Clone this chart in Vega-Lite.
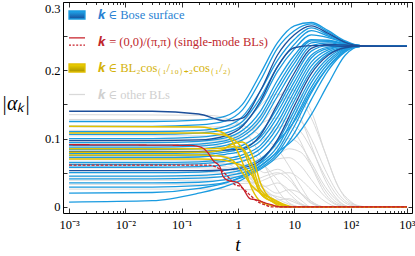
{
 "$schema": "https://vega.github.io/schema/vega-lite/v6.json",
 "width": 349, "height": 211,
 "autosize": {"type": "none"},
 "padding": {"left": 63, "top": 2, "right": 3, "bottom": 43},
 "background": "white",
 "config": {"font": "Liberation Serif", "view": {"stroke": "black", "strokeWidth": 1},
   "axis": {"grid": false, "domain": false, "tickColor": "black", "labelColor": "black", "labelFont": "Liberation Serif", "labelFontSize": 12.5, "titleFont": "Liberation Serif", "titleFontWeight": "normal", "titleColor": "black", "tickWidth": 0.8}},
 "datasets": {
  "bose": [
   {"s":"b1","t":0.001,"v":0.125},{"s":"b1","t":0.03,"v":0.125},{"s":"b1","t":0.2,"v":0.127},{"s":"b1","t":0.6,"v":0.133},{"s":"b1","t":1.2,"v":0.15},{"s":"b1","t":2.5,"v":0.195},{"s":"b1","t":5,"v":0.24},{"s":"b1","t":10,"v":0.265},{"s":"b1","t":20,"v":0.27},{"s":"b1","t":40,"v":0.258},{"s":"b1","t":80,"v":0.243},{"s":"b1","t":150,"v":0.236},{"s":"b1","t":1000,"v":0.235},
   {"s":"b2","t":0.001,"v":0.118},{"s":"b2","t":0.03,"v":0.118},{"s":"b2","t":0.2,"v":0.12},{"s":"b2","t":0.6,"v":0.126},{"s":"b2","t":1.2,"v":0.142},{"s":"b2","t":2.5,"v":0.185},{"s":"b2","t":5,"v":0.232},{"s":"b2","t":10,"v":0.258},{"s":"b2","t":20,"v":0.268},{"s":"b2","t":40,"v":0.256},{"s":"b2","t":80,"v":0.242},{"s":"b2","t":150,"v":0.236},{"s":"b2","t":1000,"v":0.235},
   {"s":"b4","t":0.001,"v":0.11},{"s":"b4","t":0.03,"v":0.11},{"s":"b4","t":0.2,"v":0.112},{"s":"b4","t":0.6,"v":0.118},{"s":"b4","t":1.2,"v":0.132},{"s":"b4","t":2.5,"v":0.17},{"s":"b4","t":5,"v":0.214},{"s":"b4","t":10,"v":0.245},{"s":"b4","t":20,"v":0.262},{"s":"b4","t":40,"v":0.252},{"s":"b4","t":80,"v":0.241},{"s":"b4","t":150,"v":0.236},{"s":"b4","t":1000,"v":0.235},
   {"s":"b5","t":0.001,"v":0.106},{"s":"b5","t":0.03,"v":0.106},{"s":"b5","t":0.2,"v":0.108},{"s":"b5","t":0.6,"v":0.113},{"s":"b5","t":1.2,"v":0.125},{"s":"b5","t":2.5,"v":0.16},{"s":"b5","t":5,"v":0.205},{"s":"b5","t":10,"v":0.238},{"s":"b5","t":20,"v":0.258},{"s":"b5","t":40,"v":0.25},{"s":"b5","t":80,"v":0.24},{"s":"b5","t":150,"v":0.236},{"s":"b5","t":1000,"v":0.235},
   {"s":"b6","t":0.001,"v":0.1},{"s":"b6","t":0.03,"v":0.1},{"s":"b6","t":0.2,"v":0.102},{"s":"b6","t":0.6,"v":0.108},{"s":"b6","t":1.2,"v":0.12},{"s":"b6","t":2.5,"v":0.152},{"s":"b6","t":5,"v":0.198},{"s":"b6","t":10,"v":0.231},{"s":"b6","t":20,"v":0.252},{"s":"b6","t":40,"v":0.248},{"s":"b6","t":80,"v":0.24},{"s":"b6","t":150,"v":0.236},{"s":"b6","t":1000,"v":0.235},
   {"s":"b8","t":0.001,"v":0.094},{"s":"b8","t":0.03,"v":0.094},{"s":"b8","t":0.2,"v":0.096},{"s":"b8","t":0.6,"v":0.101},{"s":"b8","t":1.2,"v":0.112},{"s":"b8","t":2.5,"v":0.14},{"s":"b8","t":5,"v":0.185},{"s":"b8","t":10,"v":0.222},{"s":"b8","t":20,"v":0.245},{"s":"b8","t":40,"v":0.244},{"s":"b8","t":80,"v":0.239},{"s":"b8","t":150,"v":0.235},{"s":"b8","t":1000,"v":0.235},
   {"s":"b9","t":0.001,"v":0.09},{"s":"b9","t":0.03,"v":0.09},{"s":"b9","t":0.2,"v":0.092},{"s":"b9","t":0.6,"v":0.097},{"s":"b9","t":1.2,"v":0.107},{"s":"b9","t":2.5,"v":0.133},{"s":"b9","t":5,"v":0.177},{"s":"b9","t":10,"v":0.216},{"s":"b9","t":20,"v":0.243},{"s":"b9","t":40,"v":0.243},{"s":"b9","t":80,"v":0.238},{"s":"b9","t":150,"v":0.235},{"s":"b9","t":1000,"v":0.235},
   {"s":"b10","t":0.001,"v":0.0876},{"s":"b10","t":0.03,"v":0.0876},{"s":"b10","t":0.2,"v":0.089},{"s":"b10","t":0.6,"v":0.094},{"s":"b10","t":1.2,"v":0.103},{"s":"b10","t":2.5,"v":0.127},{"s":"b10","t":5,"v":0.17},{"s":"b10","t":10,"v":0.21},{"s":"b10","t":20,"v":0.24},{"s":"b10","t":40,"v":0.242},{"s":"b10","t":80,"v":0.238},{"s":"b10","t":150,"v":0.235},{"s":"b10","t":1000,"v":0.235},
   {"s":"b11","t":0.001,"v":0.084},{"s":"b11","t":0.03,"v":0.084},{"s":"b11","t":0.2,"v":0.085},{"s":"b11","t":0.6,"v":0.09},{"s":"b11","t":1.2,"v":0.098},{"s":"b11","t":2.5,"v":0.12},{"s":"b11","t":5,"v":0.162},{"s":"b11","t":10,"v":0.203},{"s":"b11","t":20,"v":0.236},{"s":"b11","t":40,"v":0.24},{"s":"b11","t":80,"v":0.237},{"s":"b11","t":150,"v":0.235},{"s":"b11","t":1000,"v":0.235},
   {"s":"b13","t":0.001,"v":0.078},{"s":"b13","t":0.03,"v":0.078},{"s":"b13","t":0.2,"v":0.079},{"s":"b13","t":0.6,"v":0.083},{"s":"b13","t":1.2,"v":0.09},{"s":"b13","t":2.5,"v":0.108},{"s":"b13","t":5,"v":0.145},{"s":"b13","t":10,"v":0.19},{"s":"b13","t":20,"v":0.228},{"s":"b13","t":40,"v":0.236},{"s":"b13","t":80,"v":0.236},{"s":"b13","t":150,"v":0.235},{"s":"b13","t":1000,"v":0.235},
   {"s":"b14","t":0.001,"v":0.075},{"s":"b14","t":0.03,"v":0.075},{"s":"b14","t":0.2,"v":0.076},{"s":"b14","t":0.6,"v":0.08},{"s":"b14","t":1.2,"v":0.086},{"s":"b14","t":2.5,"v":0.102},{"s":"b14","t":5,"v":0.138},{"s":"b14","t":10,"v":0.183},{"s":"b14","t":20,"v":0.222},{"s":"b14","t":40,"v":0.234},{"s":"b14","t":80,"v":0.236},{"s":"b14","t":150,"v":0.235},{"s":"b14","t":1000,"v":0.235},
   {"s":"b15","t":0.001,"v":0.072},{"s":"b15","t":0.03,"v":0.072},{"s":"b15","t":0.2,"v":0.073},{"s":"b15","t":0.6,"v":0.077},{"s":"b15","t":1.2,"v":0.082},{"s":"b15","t":2.5,"v":0.097},{"s":"b15","t":5,"v":0.131},{"s":"b15","t":10,"v":0.176},{"s":"b15","t":20,"v":0.218},{"s":"b15","t":40,"v":0.232},{"s":"b15","t":80,"v":0.235},{"s":"b15","t":150,"v":0.235},{"s":"b15","t":1000,"v":0.235},
   {"s":"b16","t":0.001,"v":0.065},{"s":"b16","t":0.03,"v":0.065},{"s":"b16","t":0.2,"v":0.066},{"s":"b16","t":0.6,"v":0.07},{"s":"b16","t":1.2,"v":0.076},{"s":"b16","t":2.5,"v":0.09},{"s":"b16","t":5,"v":0.123},{"s":"b16","t":10,"v":0.169},{"s":"b16","t":20,"v":0.212},{"s":"b16","t":40,"v":0.23},{"s":"b16","t":80,"v":0.235},{"s":"b16","t":150,"v":0.235},{"s":"b16","t":1000,"v":0.235},
   {"s":"b17","t":0.001,"v":0.062},{"s":"b17","t":0.03,"v":0.062},{"s":"b17","t":0.2,"v":0.063},{"s":"b17","t":0.6,"v":0.067},{"s":"b17","t":1.2,"v":0.072},{"s":"b17","t":2.5,"v":0.085},{"s":"b17","t":5,"v":0.116},{"s":"b17","t":10,"v":0.162},{"s":"b17","t":20,"v":0.206},{"s":"b17","t":40,"v":0.227},{"s":"b17","t":80,"v":0.234},{"s":"b17","t":150,"v":0.235},{"s":"b17","t":1000,"v":0.235},
   {"s":"b18","t":0.001,"v":0.058},{"s":"b18","t":0.03,"v":0.058},{"s":"b18","t":0.2,"v":0.059},{"s":"b18","t":0.6,"v":0.062},{"s":"b18","t":1.2,"v":0.067},{"s":"b18","t":2.5,"v":0.079},{"s":"b18","t":5,"v":0.108},{"s":"b18","t":10,"v":0.155},{"s":"b18","t":20,"v":0.2},{"s":"b18","t":40,"v":0.224},{"s":"b18","t":80,"v":0.233},{"s":"b18","t":150,"v":0.235},{"s":"b18","t":1000,"v":0.235},
   {"s":"b20","t":0.001,"v":0.05},{"s":"b20","t":0.03,"v":0.05},{"s":"b20","t":0.2,"v":0.051},{"s":"b20","t":0.6,"v":0.054},{"s":"b20","t":1.2,"v":0.059},{"s":"b20","t":2.5,"v":0.07},{"s":"b20","t":5,"v":0.095},{"s":"b20","t":10,"v":0.141},{"s":"b20","t":20,"v":0.188},{"s":"b20","t":40,"v":0.218},{"s":"b20","t":80,"v":0.232},{"s":"b20","t":150,"v":0.235},{"s":"b20","t":1000,"v":0.235},
   {"s":"b21","t":0.001,"v":0.045},{"s":"b21","t":0.03,"v":0.045},{"s":"b21","t":0.2,"v":0.046},{"s":"b21","t":0.6,"v":0.049},{"s":"b21","t":1.2,"v":0.054},{"s":"b21","t":2.5,"v":0.064},{"s":"b21","t":5,"v":0.088},{"s":"b21","t":10,"v":0.134},{"s":"b21","t":20,"v":0.182},{"s":"b21","t":40,"v":0.214},{"s":"b21","t":80,"v":0.231},{"s":"b21","t":150,"v":0.235},{"s":"b21","t":1000,"v":0.235},
   {"s":"b22","t":0.001,"v":0.041},{"s":"b22","t":0.03,"v":0.041},{"s":"b22","t":0.2,"v":0.042},{"s":"b22","t":0.6,"v":0.045},{"s":"b22","t":1.2,"v":0.05},{"s":"b22","t":2.5,"v":0.06},{"s":"b22","t":5,"v":0.082},{"s":"b22","t":10,"v":0.127},{"s":"b22","t":20,"v":0.175},{"s":"b22","t":40,"v":0.21},{"s":"b22","t":80,"v":0.23},{"s":"b22","t":150,"v":0.235},{"s":"b22","t":1000,"v":0.235},
   {"s":"b23","t":0.001,"v":0.035},{"s":"b23","t":0.03,"v":0.035},{"s":"b23","t":0.2,"v":0.036},{"s":"b23","t":0.6,"v":0.04},{"s":"b23","t":1.2,"v":0.046},{"s":"b23","t":2.5,"v":0.057},{"s":"b23","t":5,"v":0.078},{"s":"b23","t":10,"v":0.118},{"s":"b23","t":20,"v":0.167},{"s":"b23","t":40,"v":0.205},{"s":"b23","t":80,"v":0.229},{"s":"b23","t":150,"v":0.235},{"s":"b23","t":1000,"v":0.235},
   {"s":"b24","t":0.001,"v":0.029},{"s":"b24","t":0.03,"v":0.029},{"s":"b24","t":0.2,"v":0.031},{"s":"b24","t":0.6,"v":0.036},{"s":"b24","t":1.2,"v":0.043},{"s":"b24","t":2.5,"v":0.055},{"s":"b24","t":5,"v":0.074},{"s":"b24","t":10,"v":0.108},{"s":"b24","t":20,"v":0.157},{"s":"b24","t":40,"v":0.2},{"s":"b24","t":80,"v":0.227},{"s":"b24","t":150,"v":0.235},{"s":"b24","t":1000,"v":0.235},
   {"s":"b25","t":0.001,"v":0.02},{"s":"b25","t":0.03,"v":0.021},{"s":"b25","t":0.2,"v":0.027},{"s":"b25","t":0.6,"v":0.035},{"s":"b25","t":1.2,"v":0.045},{"s":"b25","t":2.5,"v":0.065},{"s":"b25","t":5,"v":0.095},{"s":"b25","t":10,"v":0.125},{"s":"b25","t":20,"v":0.17},{"s":"b25","t":40,"v":0.205},{"s":"b25","t":80,"v":0.228},{"s":"b25","t":150,"v":0.235},{"s":"b25","t":1000,"v":0.235},
   {"s":"b26","t":0.001,"v":0.007},{"s":"b26","t":0.03,"v":0.009},{"s":"b26","t":0.2,"v":0.02},{"s":"b26","t":0.6,"v":0.03},{"s":"b26","t":1.2,"v":0.04},{"s":"b26","t":2.5,"v":0.06},{"s":"b26","t":5,"v":0.08},{"s":"b26","t":10,"v":0.1},{"s":"b26","t":20,"v":0.135},{"s":"b26","t":40,"v":0.18},{"s":"b26","t":80,"v":0.222},{"s":"b26","t":150,"v":0.235},{"s":"b26","t":1000,"v":0.235}
  ],
  "bose_deep": [
   {"s":"b3","t":0.001,"v":0.14},{"s":"b3","t":0.03,"v":0.14},{"s":"b3","t":0.2,"v":0.136},{"s":"b3","t":0.6,"v":0.126},{"s":"b3","t":1.2,"v":0.13},{"s":"b3","t":2.5,"v":0.17},{"s":"b3","t":5,"v":0.222},{"s":"b3","t":10,"v":0.252},{"s":"b3","t":20,"v":0.265},{"s":"b3","t":40,"v":0.254},{"s":"b3","t":80,"v":0.241},{"s":"b3","t":150,"v":0.236},{"s":"b3","t":1000,"v":0.235},
   {"s":"b7","t":0.001,"v":0.097},{"s":"b7","t":0.03,"v":0.097},{"s":"b7","t":0.2,"v":0.098},{"s":"b7","t":0.6,"v":0.104},{"s":"b7","t":1.2,"v":0.118},{"s":"b7","t":2.5,"v":0.155},{"s":"b7","t":5,"v":0.205},{"s":"b7","t":10,"v":0.233},{"s":"b7","t":20,"v":0.236},{"s":"b7","t":40,"v":0.236},{"s":"b7","t":80,"v":0.235},{"s":"b7","t":150,"v":0.235},{"s":"b7","t":1000,"v":0.235},
   {"s":"b12","t":0.001,"v":0.081},{"s":"b12","t":0.03,"v":0.081},{"s":"b12","t":0.2,"v":0.081},{"s":"b12","t":0.6,"v":0.083},{"s":"b12","t":1.2,"v":0.085},{"s":"b12","t":2.5,"v":0.105},{"s":"b12","t":5,"v":0.15},{"s":"b12","t":10,"v":0.196},{"s":"b12","t":20,"v":0.232},{"s":"b12","t":40,"v":0.238},{"s":"b12","t":80,"v":0.237},{"s":"b12","t":150,"v":0.235},{"s":"b12","t":1000,"v":0.235},
   {"s":"b19","t":0.001,"v":0.053},{"s":"b19","t":0.03,"v":0.053},{"s":"b19","t":0.2,"v":0.053},{"s":"b19","t":0.6,"v":0.054},{"s":"b19","t":1.2,"v":0.057},{"s":"b19","t":2.5,"v":0.068},{"s":"b19","t":5,"v":0.098},{"s":"b19","t":10,"v":0.148},{"s":"b19","t":20,"v":0.195},{"s":"b19","t":40,"v":0.222},{"s":"b19","t":80,"v":0.233},{"s":"b19","t":150,"v":0.235},{"s":"b19","t":1000,"v":0.235}
  ],
  "grey": [
   {"s":"g1","t":0.001,"v":0.135},{"s":"g1","t":0.3,"v":0.134},{"s":"g1","t":0.7,"v":0.128},{"s":"g1","t":1.2,"v":0.115},{"s":"g1","t":2,"v":0.09},{"s":"g1","t":3,"v":0.06},{"s":"g1","t":5,"v":0.025},{"s":"g1","t":8,"v":0.006},{"s":"g1","t":13,"v":0},{"s":"g1","t":1000,"v":0},
   {"s":"g2","t":0.001,"v":0.117},{"s":"g2","t":0.3,"v":0.117},{"s":"g2","t":0.7,"v":0.118},{"s":"g2","t":1.2,"v":0.125},{"s":"g2","t":2,"v":0.14},{"s":"g2","t":3,"v":0.155},{"s":"g2","t":5,"v":0.165},{"s":"g2","t":8,"v":0.16},{"s":"g2","t":13,"v":0.13},{"s":"g2","t":20,"v":0.09},{"s":"g2","t":35,"v":0.04},{"s":"g2","t":60,"v":0.01},{"s":"g2","t":100,"v":0},{"s":"g2","t":1000,"v":0},
   {"s":"g3","t":0.001,"v":0.104},{"s":"g3","t":0.3,"v":0.104},{"s":"g3","t":0.7,"v":0.104},{"s":"g3","t":1.2,"v":0.108},{"s":"g3","t":2,"v":0.12},{"s":"g3","t":3,"v":0.14},{"s":"g3","t":5,"v":0.16},{"s":"g3","t":8,"v":0.172},{"s":"g3","t":13,"v":0.165},{"s":"g3","t":20,"v":0.14},{"s":"g3","t":35,"v":0.08},{"s":"g3","t":60,"v":0.03},{"s":"g3","t":100,"v":0.008},{"s":"g3","t":150,"v":0},{"s":"g3","t":1000,"v":0},
   {"s":"g4","t":0.001,"v":0.1},{"s":"g4","t":0.3,"v":0.099},{"s":"g4","t":0.7,"v":0.093},{"s":"g4","t":1.2,"v":0.08},{"s":"g4","t":2,"v":0.06},{"s":"g4","t":3,"v":0.05},{"s":"g4","t":5,"v":0.055},{"s":"g4","t":8,"v":0.045},{"s":"g4","t":13,"v":0.02},{"s":"g4","t":20,"v":0.005},{"s":"g4","t":35,"v":0},{"s":"g4","t":1000,"v":0},
   {"s":"g5","t":0.001,"v":0.098},{"s":"g5","t":0.3,"v":0.098},{"s":"g5","t":0.7,"v":0.099},{"s":"g5","t":1.2,"v":0.104},{"s":"g5","t":2,"v":0.115},{"s":"g5","t":3,"v":0.125},{"s":"g5","t":5,"v":0.13},{"s":"g5","t":8,"v":0.12},{"s":"g5","t":13,"v":0.095},{"s":"g5","t":20,"v":0.06},{"s":"g5","t":35,"v":0.02},{"s":"g5","t":60,"v":0.003},{"s":"g5","t":100,"v":0},{"s":"g5","t":1000,"v":0},
   {"s":"g6","t":0.001,"v":0.092},{"s":"g6","t":0.3,"v":0.091},{"s":"g6","t":0.7,"v":0.085},{"s":"g6","t":1.2,"v":0.07},{"s":"g6","t":2,"v":0.045},{"s":"g6","t":3,"v":0.025},{"s":"g6","t":5,"v":0.01},{"s":"g6","t":8,"v":0.012},{"s":"g6","t":13,"v":0.004},{"s":"g6","t":20,"v":0},{"s":"g6","t":1000,"v":0},
   {"s":"g7","t":0.001,"v":0.086},{"s":"g7","t":0.3,"v":0.086},{"s":"g7","t":0.7,"v":0.087},{"s":"g7","t":1.2,"v":0.092},{"s":"g7","t":2,"v":0.1},{"s":"g7","t":3,"v":0.108},{"s":"g7","t":5,"v":0.12},{"s":"g7","t":8,"v":0.13},{"s":"g7","t":13,"v":0.125},{"s":"g7","t":20,"v":0.1},{"s":"g7","t":35,"v":0.055},{"s":"g7","t":60,"v":0.02},{"s":"g7","t":100,"v":0.004},{"s":"g7","t":200,"v":0},{"s":"g7","t":1000,"v":0},
   {"s":"g8","t":0.001,"v":0.08},{"s":"g8","t":0.3,"v":0.079},{"s":"g8","t":0.7,"v":0.072},{"s":"g8","t":1.2,"v":0.055},{"s":"g8","t":2,"v":0.035},{"s":"g8","t":3,"v":0.03},{"s":"g8","t":5,"v":0.035},{"s":"g8","t":8,"v":0.025},{"s":"g8","t":13,"v":0.01},{"s":"g8","t":20,"v":0},{"s":"g8","t":1000,"v":0},
   {"s":"g9","t":0.001,"v":0.074},{"s":"g9","t":0.3,"v":0.074},{"s":"g9","t":0.7,"v":0.073},{"s":"g9","t":1.2,"v":0.07},{"s":"g9","t":2,"v":0.068},{"s":"g9","t":3,"v":0.075},{"s":"g9","t":5,"v":0.09},{"s":"g9","t":8,"v":0.1},{"s":"g9","t":13,"v":0.09},{"s":"g9","t":20,"v":0.065},{"s":"g9","t":35,"v":0.03},{"s":"g9","t":60,"v":0.008},{"s":"g9","t":100,"v":0},{"s":"g9","t":1000,"v":0},
   {"s":"g10","t":0.001,"v":0.069},{"s":"g10","t":0.3,"v":0.068},{"s":"g10","t":0.7,"v":0.062},{"s":"g10","t":1.2,"v":0.048},{"s":"g10","t":2,"v":0.03},{"s":"g10","t":3,"v":0.015},{"s":"g10","t":5,"v":0.006},{"s":"g10","t":8,"v":0},{"s":"g10","t":1000,"v":0},
   {"s":"g11","t":0.001,"v":0.064},{"s":"g11","t":0.3,"v":0.064},{"s":"g11","t":1.2,"v":0.062},{"s":"g11","t":2,"v":0.06},{"s":"g11","t":3,"v":0.062},{"s":"g11","t":5,"v":0.07},{"s":"g11","t":8,"v":0.072},{"s":"g11","t":13,"v":0.06},{"s":"g11","t":20,"v":0.04},{"s":"g11","t":35,"v":0.015},{"s":"g11","t":60,"v":0.002},{"s":"g11","t":100,"v":0},{"s":"g11","t":1000,"v":0},
   {"s":"g12","t":0.001,"v":0.057},{"s":"g12","t":0.3,"v":0.057},{"s":"g12","t":0.7,"v":0.055},{"s":"g12","t":1.2,"v":0.048},{"s":"g12","t":2,"v":0.04},{"s":"g12","t":3,"v":0.045},{"s":"g12","t":5,"v":0.05},{"s":"g12","t":8,"v":0.04},{"s":"g12","t":13,"v":0.02},{"s":"g12","t":20,"v":0.006},{"s":"g12","t":35,"v":0},{"s":"g12","t":1000,"v":0},
   {"s":"g13","t":0.001,"v":0.05},{"s":"g13","t":0.3,"v":0.05},{"s":"g13","t":1.2,"v":0.048},{"s":"g13","t":2,"v":0.04},{"s":"g13","t":3,"v":0.03},{"s":"g13","t":5,"v":0.02},{"s":"g13","t":8,"v":0.025},{"s":"g13","t":13,"v":0.02},{"s":"g13","t":20,"v":0.008},{"s":"g13","t":35,"v":0},{"s":"g13","t":1000,"v":0},
   {"s":"g14","t":0.001,"v":0.044},{"s":"g14","t":0.3,"v":0.044},{"s":"g14","t":1.2,"v":0.045},{"s":"g14","t":2,"v":0.05},{"s":"g14","t":3,"v":0.06},{"s":"g14","t":5,"v":0.075},{"s":"g14","t":8,"v":0.085},{"s":"g14","t":13,"v":0.08},{"s":"g14","t":20,"v":0.06},{"s":"g14","t":35,"v":0.025},{"s":"g14","t":60,"v":0.005},{"s":"g14","t":100,"v":0},{"s":"g14","t":1000,"v":0},
   {"s":"g15","t":0.001,"v":0.039},{"s":"g15","t":0.3,"v":0.039},{"s":"g15","t":1.2,"v":0.038},{"s":"g15","t":2,"v":0.035},{"s":"g15","t":3,"v":0.025},{"s":"g15","t":5,"v":0.012},{"s":"g15","t":8,"v":0.004},{"s":"g15","t":13,"v":0},{"s":"g15","t":1000,"v":0},
   {"s":"g16","t":0.001,"v":0.033},{"s":"g16","t":0.3,"v":0.033},{"s":"g16","t":2,"v":0.035},{"s":"g16","t":3,"v":0.04},{"s":"g16","t":5,"v":0.048},{"s":"g16","t":8,"v":0.05},{"s":"g16","t":13,"v":0.04},{"s":"g16","t":20,"v":0.025},{"s":"g16","t":35,"v":0.008},{"s":"g16","t":60,"v":0},{"s":"g16","t":1000,"v":0},
   {"s":"g17","t":0.001,"v":0.026},{"s":"g17","t":0.3,"v":0.026},{"s":"g17","t":2,"v":0.025},{"s":"g17","t":3,"v":0.02},{"s":"g17","t":5,"v":0.015},{"s":"g17","t":8,"v":0.01},{"s":"g17","t":13,"v":0.003},{"s":"g17","t":20,"v":0},{"s":"g17","t":1000,"v":0},
   {"s":"g18","t":0.001,"v":0.128},{"s":"g18","t":0.3,"v":0.128},{"s":"g18","t":0.7,"v":0.127},{"s":"g18","t":1.2,"v":0.12},{"s":"g18","t":2,"v":0.11},{"s":"g18","t":3,"v":0.1},{"s":"g18","t":5,"v":0.085},{"s":"g18","t":8,"v":0.06},{"s":"g18","t":13,"v":0.03},{"s":"g18","t":20,"v":0.008},{"s":"g18","t":35,"v":0},{"s":"g18","t":1000,"v":0},
   {"s":"g19","t":0.001,"v":0.112},{"s":"g19","t":0.3,"v":0.111},{"s":"g19","t":0.7,"v":0.106},{"s":"g19","t":1.2,"v":0.095},{"s":"g19","t":2,"v":0.075},{"s":"g19","t":3,"v":0.06},{"s":"g19","t":5,"v":0.04},{"s":"g19","t":8,"v":0.02},{"s":"g19","t":13,"v":0.005},{"s":"g19","t":20,"v":0},{"s":"g19","t":1000,"v":0},
   {"s":"g20","t":0.001,"v":0.082},{"s":"g20","t":0.3,"v":0.082},{"s":"g20","t":1.2,"v":0.085},{"s":"g20","t":2,"v":0.09},{"s":"g20","t":3,"v":0.1},{"s":"g20","t":5,"v":0.115},{"s":"g20","t":8,"v":0.12},{"s":"g20","t":13,"v":0.11},{"s":"g20","t":20,"v":0.085},{"s":"g20","t":35,"v":0.045},{"s":"g20","t":60,"v":0.015},{"s":"g20","t":100,"v":0.002},{"s":"g20","t":150,"v":0},{"s":"g20","t":1000,"v":0},
   {"s":"g21","t":0.001,"v":0.06},{"s":"g21","t":0.3,"v":0.06},{"s":"g21","t":0.7,"v":0.058},{"s":"g21","t":1.2,"v":0.05},{"s":"g21","t":2,"v":0.035},{"s":"g21","t":3,"v":0.02},{"s":"g21","t":5,"v":0.008},{"s":"g21","t":8,"v":0},{"s":"g21","t":1000,"v":0},
   {"s":"g22","t":0.001,"v":0.095},{"s":"g22","t":0.3,"v":0.095},{"s":"g22","t":1.2,"v":0.098},{"s":"g22","t":2,"v":0.11},{"s":"g22","t":3,"v":0.128},{"s":"g22","t":5,"v":0.15},{"s":"g22","t":8,"v":0.16},{"s":"g22","t":13,"v":0.155},{"s":"g22","t":20,"v":0.13},{"s":"g22","t":35,"v":0.08},{"s":"g22","t":60,"v":0.03},{"s":"g22","t":100,"v":0.006},{"s":"g22","t":200,"v":0},{"s":"g22","t":1000,"v":0}
  ],
  "yellow": [
   {"s":"y1","t":0.001,"v":0.118},{"s":"y1","t":0.2,"v":0.117},{"s":"y1","t":0.5,"v":0.11},{"s":"y1","t":0.8,"v":0.095},{"s":"y1","t":1.2,"v":0.065},{"s":"y1","t":1.8,"v":0.025},{"s":"y1","t":2.5,"v":0.008},{"s":"y1","t":4,"v":0.002},{"s":"y1","t":6,"v":0},{"s":"y1","t":1000,"v":0},
   {"s":"y2","t":0.001,"v":0.108},{"s":"y2","t":0.2,"v":0.108},{"s":"y2","t":0.5,"v":0.106},{"s":"y2","t":0.8,"v":0.1},{"s":"y2","t":1.2,"v":0.085},{"s":"y2","t":1.8,"v":0.05},{"s":"y2","t":2.5,"v":0.02},{"s":"y2","t":4,"v":0.008},{"s":"y2","t":6,"v":0.002},{"s":"y2","t":8,"v":0},{"s":"y2","t":1000,"v":0},
   {"s":"y3","t":0.001,"v":0.08},{"s":"y3","t":0.2,"v":0.08},{"s":"y3","t":0.5,"v":0.083},{"s":"y3","t":0.8,"v":0.092},{"s":"y3","t":1.2,"v":0.095},{"s":"y3","t":1.8,"v":0.075},{"s":"y3","t":2.5,"v":0.035},{"s":"y3","t":4,"v":0.01},{"s":"y3","t":6,"v":0.003},{"s":"y3","t":8,"v":0},{"s":"y3","t":1000,"v":0},
   {"s":"y4","t":0.001,"v":0.076},{"s":"y4","t":0.2,"v":0.076},{"s":"y4","t":0.5,"v":0.074},{"s":"y4","t":0.8,"v":0.068},{"s":"y4","t":1.2,"v":0.05},{"s":"y4","t":1.8,"v":0.03},{"s":"y4","t":2.5,"v":0.02},{"s":"y4","t":4,"v":0.012},{"s":"y4","t":6,"v":0.004},{"s":"y4","t":8,"v":0},{"s":"y4","t":1000,"v":0},
   {"s":"y5","t":0.001,"v":0.07},{"s":"y5","t":0.2,"v":0.07},{"s":"y5","t":0.5,"v":0.069},{"s":"y5","t":0.8,"v":0.065},{"s":"y5","t":1.2,"v":0.06},{"s":"y5","t":1.8,"v":0.045},{"s":"y5","t":2.5,"v":0.02},{"s":"y5","t":4,"v":0.008},{"s":"y5","t":6,"v":0},{"s":"y5","t":1000,"v":0},
   {"s":"y6","t":0.001,"v":0.085},{"s":"y6","t":0.2,"v":0.085},{"s":"y6","t":0.5,"v":0.086},{"s":"y6","t":0.8,"v":0.088},{"s":"y6","t":1.2,"v":0.085},{"s":"y6","t":1.8,"v":0.06},{"s":"y6","t":2.5,"v":0.025},{"s":"y6","t":4,"v":0.012},{"s":"y6","t":6,"v":0.005},{"s":"y6","t":10,"v":0},{"s":"y6","t":1000,"v":0}
  ],
  "red": [
   {"s":"r1","t":0.001,"v":0.091},{"s":"r1","t":0.14,"v":0.09},{"s":"r1","t":0.21,"v":0.088},{"s":"r1","t":0.3,"v":0.078},{"s":"r1","t":0.36,"v":0.068},{"s":"r1","t":0.48,"v":0.058},{"s":"r1","t":0.54,"v":0.045},{"s":"r1","t":0.7,"v":0.038},{"s":"r1","t":0.97,"v":0.036},{"s":"r1","t":1.24,"v":0.026},{"s":"r1","t":1.64,"v":0.012},{"s":"r1","t":2.2,"v":0.01},{"s":"r1","t":3,"v":0.006},{"s":"r1","t":4,"v":0.003},{"s":"r1","t":5.6,"v":0},{"s":"r1","t":1000,"v":0},
   {"s":"r2","t":0.001,"v":0.061},{"s":"r2","t":0.3,"v":0.061},{"s":"r2","t":0.48,"v":0.055},{"s":"r2","t":0.7,"v":0.042},{"s":"r2","t":0.9,"v":0.032},{"s":"r2","t":1.1,"v":0.03},{"s":"r2","t":1.3,"v":0.025},{"s":"r2","t":1.7,"v":0.016},{"s":"r2","t":2.2,"v":0.008},{"s":"r2","t":3,"v":0.003},{"s":"r2","t":4,"v":0},{"s":"r2","t":1000,"v":0}
  ]
 },
 "layer": [
  {"data": {"name": "grey"},
   "mark": {"type": "line", "interpolate": "monotone", "strokeWidth": 1, "clip": true},
   "encoding": {
    "x": {"field": "t", "type": "quantitative", "scale": {"type": "log", "domain": [0.00078, 1230], "nice": false},
      "axis": {"orient": "bottom", "values": [0.001, 0.01, 0.1, 1, 10, 100, 1000], "tickSize": -5, "labelPadding": 10, "labelFontSize": 12.5,
        "labelExpr": "datum.value > 999 ? '10³' : datum.value > 99 ? '10²' : datum.value > 9 ? '10' : datum.value > 0.9 ? '1' : datum.value > 0.09 ? '10⁻¹' : datum.value > 0.009 ? '10⁻²' : '10⁻³'",
        "title": "t", "titleFontStyle": "italic", "titleFontSize": 19, "titlePadding": 5}},
    "y": {"field": "v", "type": "quantitative", "scale": {"domain": [-0.009, 0.3], "nice": false, "zero": false},
      "axis": {"orient": "left", "values": [0, 0.05, 0.1, 0.15, 0.2, 0.25, 0.3], "tickSize": -4, "labelPadding": 7, "labelFlush": 1,
        "labelExpr": "datum.value == 0 ? '0' : (round(datum.value*100) % 10 == 0 ? format(datum.value, '.1f') : '')",
        "title": "|αₖ|", "titleAngle": 0, "titleFontSize": 20, "titleFontStyle": "italic", "titleAlign": "left", "titleBaseline": "middle", "titleX": -62, "titleY": 101}},
    "detail": {"field": "s"},
    "color": {"datum": "other", "type": "nominal",
      "scale": {"domain": ["bose", "red", "yellow", "other"], "range": ["#1a9be0", "#c8202a", "#e2c000", "#d9d9d9"]},
      "legend": {"title": null, "orient": "none", "legendX": 5, "legendY": 4, "labelFont": "Liberation Serif", "labelFontSize": 12.5, "labelLimit": 400,
        "symbolSize": 256, "symbolStrokeWidth": 1.3, "labelOffset": 12, "rowPadding": 10.5,
        "labelExpr": "datum.value == 'bose' ? '𝒌 ∈ Bose surface' : datum.value == 'red' ? '𝒌 = (0,0)/(π,π) (single-mode BLs)' : datum.value == 'yellow' ? '𝒌 ∈ BL₂cos₍₁/₁₀₎₊₂cos₍₁/₂₎' : '𝒌 ∈ other BLs'",
        "encode": {
          "symbols": {"update": {
            "shape": [{"test": "datum.value == 'bose' || datum.value == 'yellow'", "value": "M-1,-0.5H1V0.5H-1Z"}, {"test": "datum.value == 'red'", "value": "M-1,-0.45H1M-1,0.45H-0.75M-0.55,0.45H-0.3M-0.1,0.45H0.15M0.35,0.45H0.6M0.8,0.45H1"}, {"value": "M-1,0H1"}],
            "fill": [{"test": "datum.value == 'bose'", "value": {"gradient": "linear", "x1": 0, "y1": 0, "x2": 0, "y2": 1, "stops": [{"offset": 0, "color": "#1fa8ee"}, {"offset": 1, "color": "#174a96"}]}}, {"test": "datum.value == 'yellow'", "value": {"gradient": "linear", "x1": 0, "y1": 0, "x2": 0, "y2": 1, "stops": [{"offset": 0, "color": "#f2d400"}, {"offset": 1, "color": "#a89200"}]}}, {"value": "transparent"}],
            "stroke": [{"test": "datum.value == 'bose' || datum.value == 'yellow'", "value": "transparent"}, {"test": "datum.value == 'red'", "value": "#c8202a"}, {"value": "#d9d9d9"}]
          }},
          "labels": {"update": {"fill": [{"test": "datum.value == 'bose'", "value": "#2a82d2"}, {"test": "datum.value == 'red'", "value": "#c0282d"}, {"test": "datum.value == 'yellow'", "value": "#d4b20a"}, {"value": "#d0d0d0"}]}}
        }}}
   }},
  {"data": {"name": "bose"},
   "mark": {"type": "line", "interpolate": "monotone", "strokeWidth": 1.3, "clip": true},
   "encoding": {
    "x": {"field": "t", "type": "quantitative", "axis": {"orient": "bottom", "values": [0.002,0.003,0.004,0.005,0.006,0.007,0.008,0.009,0.02,0.03,0.04,0.05,0.06,0.07,0.08,0.09,0.2,0.3,0.4,0.5,0.6,0.7,0.8,0.9,2,3,4,5,6,7,8,9,20,30,40,50,60,70,80,90,200,300,400,500,600,700,800,900], "tickSize": -2.5, "labels": false, "title": null}},
    "y": {"field": "v", "type": "quantitative", "axis": {"orient": "right", "values": [0, 0.05, 0.1, 0.15, 0.2, 0.25, 0.3], "tickSize": -4, "labels": false, "title": null}},
    "detail": {"field": "s"},
    "color": {"datum": "bose", "type": "nominal"}
   }},
  {"data": {"name": "bose_deep"},
   "mark": {"type": "line", "interpolate": "monotone", "strokeWidth": 1.3, "clip": true, "color": "#1d4f9a"},
   "encoding": {
    "x": {"field": "t", "type": "quantitative", "axis": {"orient": "top", "values": [0.001, 0.01, 0.1, 1, 10, 100, 1000], "tickSize": -5, "labels": false, "title": null}},
    "y": {"field": "v", "type": "quantitative", "axis": null},
    "detail": {"field": "s"}
   }},
  {"data": {"name": "yellow"},
   "mark": {"type": "line", "interpolate": "monotone", "strokeWidth": 1.5, "clip": true},
   "encoding": {
    "x": {"field": "t", "type": "quantitative", "axis": {"orient": "top", "values": [0.002,0.003,0.004,0.005,0.006,0.007,0.008,0.009,0.02,0.03,0.04,0.05,0.06,0.07,0.08,0.09,0.2,0.3,0.4,0.5,0.6,0.7,0.8,0.9,2,3,4,5,6,7,8,9,20,30,40,50,60,70,80,90,200,300,400,500,600,700,800,900], "tickSize": -2.5, "labels": false, "title": null}},
    "y": {"field": "v", "type": "quantitative", "axis": null},
    "detail": {"field": "s"},
    "color": {"datum": "yellow", "type": "nominal"}
   }},
  {"data": {"name": "red"},
   "mark": {"type": "line", "interpolate": "monotone", "strokeWidth": 1.3, "clip": true},
   "encoding": {
    "x": {"field": "t", "type": "quantitative", "axis": null},
    "y": {"field": "v", "type": "quantitative", "axis": null},
    "strokeDash": {"field": "s", "type": "nominal", "scale": {"domain": ["r1", "r2"], "range": [[1, 0], [3, 1.5]]}, "legend": null},
    "color": {"datum": "red", "type": "nominal"}
   }}
 ],
 "resolve": {"axis": {"x": "independent", "y": "independent"}}
}
